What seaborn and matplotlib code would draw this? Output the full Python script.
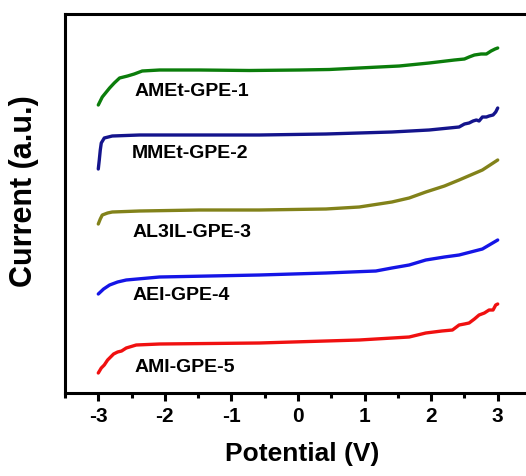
import numpy as np
import pandas as pd
import matplotlib
matplotlib.use("Agg")
import matplotlib.pyplot as plt
import seaborn as sns
from matplotlib.ticker import MultipleLocator

# ---- data (current in arbitrary units) ----
samples = ["AMEt-GPE-1", "MMEt-GPE-2", "AL3IL-GPE-3", "AEI-GPE-4", "AMI-GPE-5"]
colors = ["#0b7d0b", "#14148c", "#82821a", "#1515e6", "#f01010"]

x_amet = [-3.00, -2.94, -2.83, -2.76, -2.68, -2.56, -2.46, -2.34, -2.08, -1.48, -0.73, 0.02,
          0.47, 0.92, 1.52, 1.97, 2.35, 2.50, 2.57, 2.65, 2.75, 2.83, 2.90, 2.96, 3.00]
y_amet = [288, 296, 305, 310, 315, 317, 319, 322, 323, 323, 322.5, 323,
          323.5, 325, 327, 330, 333, 334, 336, 338, 339, 339, 342, 344, 345]

x_mmet = [-3.00, -2.985, -2.97, -2.955, -2.91, -2.79, -2.38, -1.48, -0.58, 0.42, 1.41, 1.97,
          2.42, 2.50, 2.57, 2.63, 2.68, 2.72, 2.77, 2.83, 2.87, 2.93, 2.97, 3.00]
y_mmet = [224, 233, 243, 250, 255, 257, 258, 258, 258, 259, 261, 263,
          266, 269, 270, 272, 273, 272, 276, 276, 277, 278, 281, 285]

x_al3il = [-3.00, -2.97, -2.94, -2.86, -2.79, -2.38, -1.48, -0.58, 0.42, 0.92, 1.41, 1.67,
           1.92, 2.20, 2.42, 2.77, 3.00]
y_al3il = [169, 174, 178, 180, 181, 182, 183, 183, 184, 186, 191, 195,
           201, 207, 213, 223, 233]

x_aei = [-3.00, -2.92, -2.83, -2.71, -2.58, -2.08, -0.58, 0.42, 1.17, 1.41, 1.67, 1.92,
         2.20, 2.42, 2.77, 3.00]
y_aei = [99, 104, 108, 111, 113, 116, 118, 120, 122, 125, 128, 133,
         136, 138, 144, 153]

x_ami = [-3.00, -2.955, -2.91, -2.86, -2.83, -2.77, -2.71, -2.65, -2.58, -2.43, -2.08, -0.58,
         0.92, 1.67, 1.92, 2.16, 2.32, 2.42, 2.50, 2.57, 2.65, 2.72, 2.80, 2.87, 2.93, 2.97, 3.00]
y_ami = [20, 25, 28, 33, 35, 39, 41, 42, 45, 48, 49, 50,
         53, 56, 60, 62, 63, 68, 69, 70, 74, 78, 80, 83, 83, 88, 89]

label_x = [-2.46, -2.49, -2.49, -2.49, -2.46]
label_y = [301, 240, 160, 97, 26]

xticks = [-3, -2, -1, 0, 1, 2, 3]

# ---- build table ----
xs = [x_amet, x_mmet, x_al3il, x_aei, x_ami]
ys = [y_amet, y_mmet, y_al3il, y_aei, y_ami]
frames = []
for name, xv, yv in zip(samples, xs, ys):
    frames.append(pd.DataFrame({"Potential": xv, "Current": yv, "Sample": name}))
df = pd.concat(frames, ignore_index=True)

sns.set_theme(style="ticks")
plt.rcParams["font.family"] = ["Liberation Sans", "DejaVu Sans"]
plt.rcParams["font.weight"] = "bold"
plt.rcParams["text.color"] = "black"
plt.rcParams["axes.labelcolor"] = "black"
plt.rcParams["xtick.color"] = "black"
plt.rcParams["ytick.color"] = "black"

fig = plt.figure(figsize=(5.26, 4.76), dpi=100)
ax = fig.add_axes([65 / 526, 1 - 393 / 476, 466 / 526, 379 / 476])

sns.lineplot(data=df, x="Potential", y="Current", hue="Sample", hue_order=samples,
             palette=colors, sort=False, estimator=None, legend=False,
             linewidth=2.4, ax=ax)

for name, lx, ly in zip(samples, label_x, label_y):
    ax.text(lx, ly, name, fontsize=14, fontweight="bold", ha="left", va="center",
            color="black")

ax.set_xlim(-3.5, 3.5)
ax.set_ylim(0, 379)
ax.set_xticks(xticks)
ax.set_xticklabels([str(t) for t in xticks])
ax.xaxis.set_minor_locator(MultipleLocator(0.5))
ax.set_yticks([])

for side in ["left", "bottom", "top", "right"]:
    ax.spines[side].set_linewidth(2.2)
    ax.spines[side].set_color("black")

ax.tick_params(axis="x", which="major", direction="out", length=6, width=2.2,
               labelsize=15, pad=4, colors="black", labelcolor="black")
ax.tick_params(axis="x", which="minor", direction="out", length=3.5, width=2.2)
for lab in ax.get_xticklabels():
    lab.set_fontweight("bold")
    lab.set_color("black")

ax.set_xlabel("Potential (V)", fontsize=19, fontweight="bold", color="black")
ax.set_ylabel("Current (a.u.)", fontsize=22, fontweight="bold", color="black")
ax.xaxis.set_label_coords(0.51, -0.13)
ax.yaxis.set_label_coords(-0.055, 0.532)

fig.savefig("out.png", dpi=100)
